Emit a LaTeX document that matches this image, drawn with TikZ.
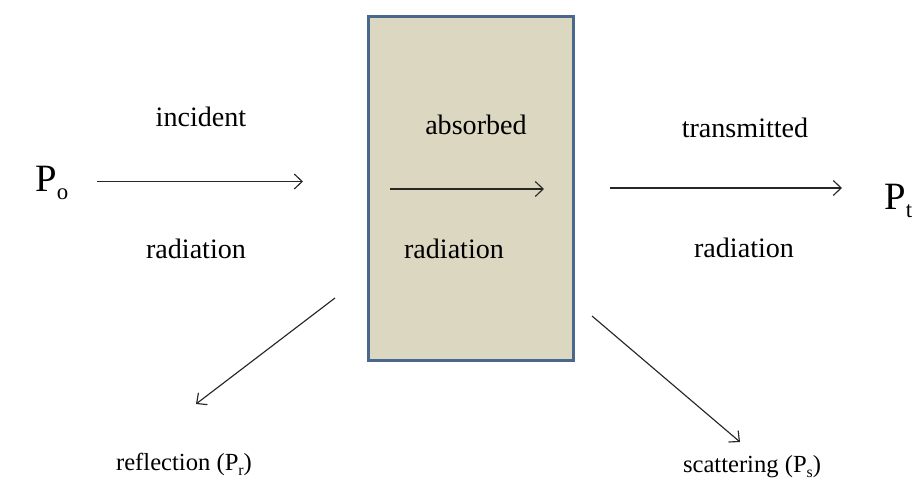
\documentclass[tikz,border=0pt]{standalone}
\usepackage{fontspec}
\setmainfont{Liberation Serif}
\usepackage{tikz}
\usetikzlibrary{arrows.meta}

\definecolor{samplefill}{RGB}{220,215,193}
\definecolor{sampleedge}{RGB}{74,103,140}

% lowered subscript of given size
\newcommand{\psub}[3]{\raisebox{-#3}{\fontsize{#1}{#1}\selectfont #2}}

\begin{document}
\begin{tikzpicture}[
    ray/.style = {line width=0.65pt, draw=black!85,
        -{Straight Barb[length=4.5pt, width=8.5pt, line width=0.65pt]}},
    lbl/.style = {anchor=base, inner sep=0pt, font=\fontsize{16}{19}\selectfont},
    small/.style = {anchor=base, inner sep=0pt, font=\fontsize{14}{17}\selectfont},
    power/.style = {inner sep=0pt, font=\fontsize{22}{26}\selectfont},
    sample/.style = {draw=sampleedge, fill=samplefill, line width=1.7pt,
        minimum width=4.1cm, minimum height=6.88cm, inner sep=0pt}
]
    \useasboundingbox (0, 0) rectangle (18.28, 9.58);

    % the sample
    \node[sample] (cell) at (9.42, 5.81) {};

    % powers in and out
    \node[power, anchor=base west] (Po) at (0.7, 5.74)
        {P\psub{13}{o}{4.5pt}};
    \node[power, anchor=base east] (Pt) at (18.25, 5.38)
        {P\psub{13}{t}{4.5pt}};

    % labels
    \node[lbl] (inc)   at (4.02, 7.04)  {incident};
    \node[lbl] (incr)  at (3.92, 4.42)  {radiation};
    \node[lbl] (abs)   at (9.52, 6.88)  {absorbed};
    \node[lbl] (absr)  at (9.08, 4.42)  {radiation};
    \node[lbl] (trans) at (14.90, 6.82) {transmitted};
    \node[lbl] (transr) at (14.88, 4.44) {radiation};
    \node[small] (refl) at (3.68, 0.18)
        {reflection (P\psub{9}{r}{3pt})};
    \node[small] (scat) at (15.04, 0.14)
        {scattering (P\psub{9}{s}{3pt})};

    % arrow ends
    \coordinate (inA)  at (1.94, 5.95);
    \coordinate (inB)  at (6.06, 5.95);
    \coordinate (abA)  at (7.80, 5.80);
    \coordinate (abB)  at (10.88, 5.80);
    \coordinate (trA)  at (12.20, 5.82);
    \coordinate (trB)  at (16.84, 5.82);
    \coordinate (rfA)  at (6.70, 3.62);
    \coordinate (rfB)  at (3.92, 1.50);
    \coordinate (scA)  at (11.84, 3.26);
    \coordinate (scB)  at (14.80, 0.74);

    \draw[ray] (inA) -- (inB);
    \draw[ray] (abA) -- (abB);
    \draw[ray] (trA) -- (trB);
    \draw[ray] (rfA) -- (rfB);
    \draw[ray] (scA) -- (scB);
\end{tikzpicture}
\end{document}
